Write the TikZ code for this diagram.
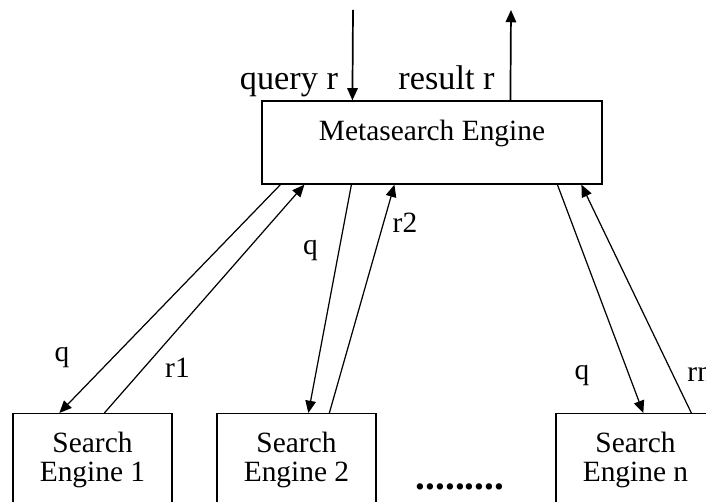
\documentclass[tikz,border=0pt]{standalone}
\usepackage{fontspec}
\setmainfont{Liberation Serif}
\usetikzlibrary{positioning}
\usetikzlibrary{arrows.meta,calc}
\tikzstyle{metabox}=[draw,line width=0.5pt,minimum width=138.7pt,minimum height=33.9pt,inner sep=0pt,font=\fontsize{12}{14}\selectfont,text height=8.2pt,text depth=10pt]
\tikzstyle{searchbox}=[draw,line width=0.5pt,anchor=north,minimum width=64.9pt,minimum height=37.9pt,inner sep=0pt,align=center,font=\fontsize{12}{11.5}\selectfont]
\tikzstyle{edge} = [draw,line width=0.5pt,-{Triangle[length=5pt,width=4.3pt]}]
\tikzstyle{weight} = [font=\fontsize{12}{14}\selectfont,anchor=base,inner sep=0pt]
\tikzstyle{iolabel} = [font=\fontsize{14}{16}\selectfont,anchor=base,inner sep=0pt]

\begin{document}
\begin{tikzpicture}[x=0.408pt,y=-0.408pt]
    \useasboundingbox (0,0) rectangle (706,502);
    % The metasearch engine on top
    \node[metabox] (meta) at (432,142.5) {Metasearch Engine};

    % Then the search engines below it
    \foreach \pos/\name/\num in {{(92.5,413)/se1/1}, {(296.5,413)/se2/2}, {(635.5,413)/sen/n}}
        \node[searchbox] (\name) at \pos {Search\\Engine \num};
    \node[font=\fontsize{16}{16}\selectfont\bfseries,anchor=base,inner sep=0pt] (dots) at (460,490) {.........};

    % Query in, result out
    \coordinate (qin) at (353,10);
    \coordinate (rout) at (511,10);
    \path[edge,line width=0.7pt] (qin) -- ($(meta.north west)+(91,0)$);
    \path[edge,line width=0.7pt] ($(meta.north west)+(249,0)$) -- (rout);
    \node[iolabel] (lquery) at (289,90) {query r};
    \node[iolabel] (lresult) at (446.5,90) {result r};

    % Connect the engines with edges and draw the labels
    \foreach \source/\sx/\dest/\dx in {meta.south west/19/se1.north west/47, se1.north west/92/meta.south west/43,
            meta.south west/90/se2.north west/92, se2.north west/113/meta.south west/133,
            meta.south west/296/sen.north west/88, sen.north west/136/meta.south west/320}
        \path[edge] ($(\source)+(\sx,0)$) -- ($(\dest)+(\dx,0)$);
    \foreach \pos/\name/\txt in {{(62,362)/lq1/q}, {(177.5,378)/lr1/r1}, {(310.5,255)/lq2/q}, {(405,233)/lr2/r2}, {(582,380)/lqn/q}}
        \node[weight] (\name) at \pos {\txt};
    \node[weight,anchor=base west] (lrn) at (687,382) {rn};
\end{tikzpicture}
\end{document}
